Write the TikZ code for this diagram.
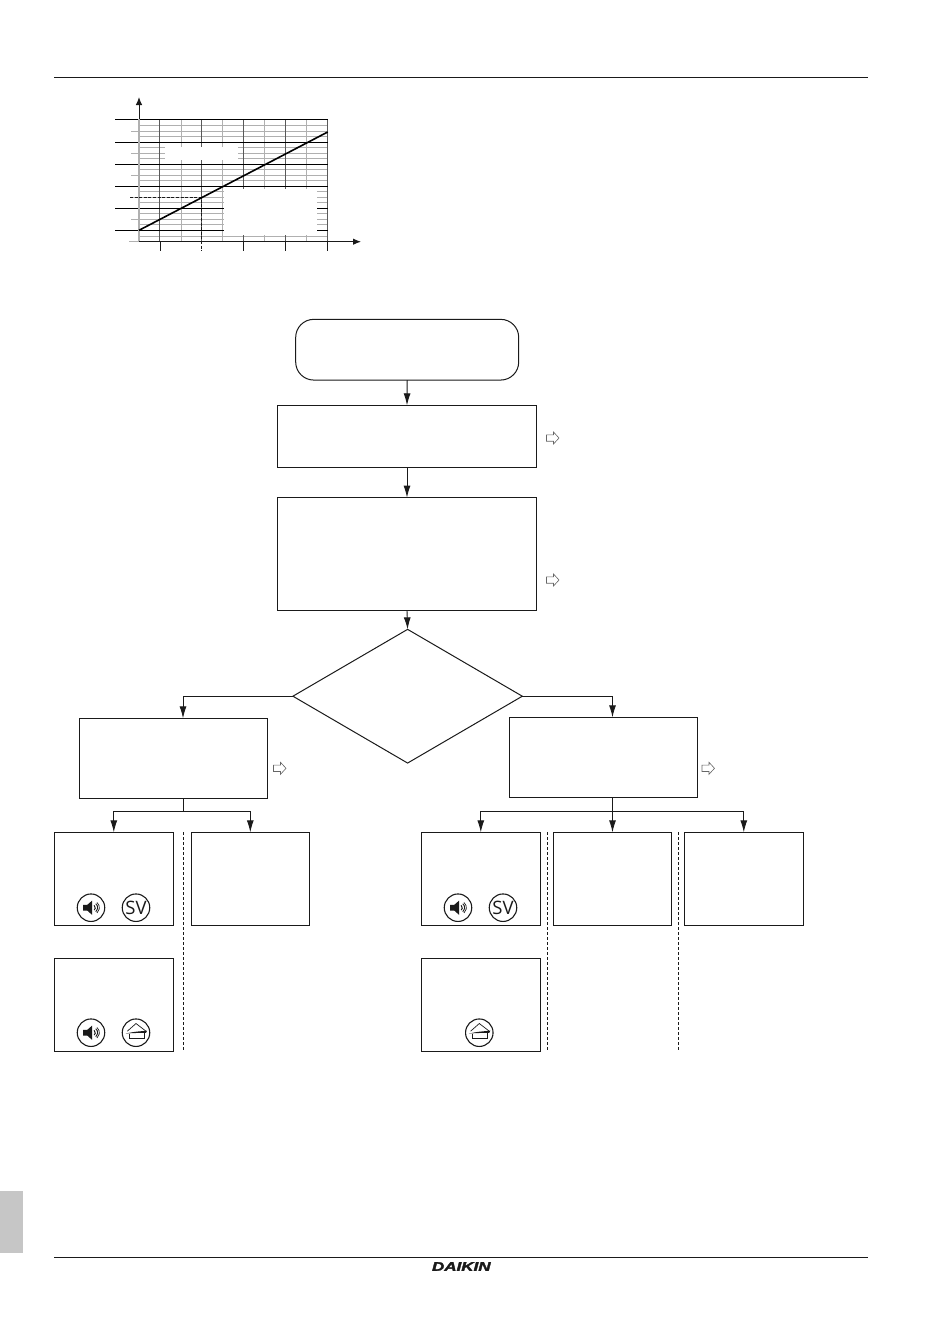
\documentclass[tikz,border=0pt]{standalone}
\usepackage{fontspec}
\setmainfont{Liberation Sans}
\newfontfamily\logofont{Liberation Sans}[BoldItalicFeatures={FakeBold=2.2}]
\newfontfamily\iconfont{Open Sans}
\usetikzlibrary{arrows.meta,shapes.geometric}
\definecolor{ink}{HTML}{1A1A1A}
\definecolor{gridgray}{HTML}{B0B0B0}
\definecolor{tabgray}{HTML}{C6C6C6}
\tikzset{
  x=1pt,y=-1pt,
  outline/.style={draw=ink,line width=1pt,fill=white,inner sep=0pt,outer sep=0pt},
  flow/.style={draw=ink,line width=0.9pt,-{Latex[length=12pt,width=7pt]}},
  trunk/.style={draw=ink,line width=0.9pt},
  sep/.style={draw=ink,line width=0.8pt,dash pattern=on 3pt off 2pt},
  rule/.style={draw=ink,line width=0.9pt},
  hint/.style={draw=black!60,line width=0.6pt,fill=white},
  ring/.style={draw=ink,line width=1.1pt,fill=white,circle,minimum size=27.5pt,inner sep=0pt,outer sep=0pt},
  svlabel/.style={font=\iconfont\fontsize{18.5}{18.5}\selectfont,text=ink},
  gridfine/.style={draw=gridgray,line width=0.9pt},
  griddark/.style={draw=black!65,line width=0.8pt},
  gridblack/.style={draw=black,line width=0.9pt},
  axisline/.style={draw=ink,line width=1pt,-{Latex[length=8pt,width=6.5pt]}},
}
\newcommand{\speakericon}[1]{%
  \begin{scope}[shift={(#1.center)}]
    \fill[ink] (-8,-2.8) -- (-3.8,-2.8) -- (1.2,-7.2) -- (1.2,7.2) -- (-3.8,2.8) -- (-8,2.8) -- cycle;
    \draw[ink,line width=1pt] (3.2,-2.4) arc[start angle=-50,end angle=50,radius=3.1];
    \draw[ink,line width=0.9pt] (4.8,-4) arc[start angle=-50,end angle=50,radius=5.2];
    \draw[ink,line width=0.7pt] (6,-5.2) arc[start angle=-50,end angle=50,radius=6.8];
  \end{scope}
}
\newcommand{\houseicon}[1]{%
  \begin{scope}[shift={(#1.center)}]
    \draw[ink,line width=0.7pt] (-8.7,-1.5) -- (0,-9.2) -- (10,-1.5);
    \fill[ink] (-10.5,0.9) .. controls (-3,-1) and (4,-1.4) .. (11,-2) -- (10,0.2) .. controls (3,0.2) and (-3,0.2) .. (-10.5,0.9) -- cycle;
    \draw[ink,line width=0.8pt] (-6.7,1) -- (-6.7,5.8) -- (8.2,5.8) -- (8.2,0.6);
  \end{scope}
}
\begin{document}
\begin{tikzpicture}
\useasboundingbox (0,0) rectangle (950,1344);
\fill[white] (0,0) rectangle (950,1344);

% page furniture
\draw[rule] (54,77.5) -- (868,77.5);
\draw[rule] (54,1257.5) -- (868,1257.5);
\fill[tabgray] (0,1190.5) rectangle (22.7,1253);
\node[font=\logofont\bfseries\itshape\fontsize{12.5}{12.5}\selectfont,text=ink,xscale=1.36,inner sep=0pt] (logo) at (461.3,1266.5) {DAIKIN};

% chart: fine grid
\foreach \y in {125,131,136.7,147.8,153.3,158.8,169.8,175.3,180.8,191.8,197.3,202.8,213.8,219.3,224.8,236.7}
  \draw[gridfine] (139,\y) -- (327.7,\y);
\foreach \y in {131,153.3,175.3,197.3,219.3}
  \draw[gridfine] (131,\y) -- (139,\y);
\draw[gridfine] (129,241.7) -- (139,241.7);
\foreach \x in {181,222.3,264.3,306.3}
  \draw[gridfine] (\x,119.3) -- (\x,241.7);
\foreach \x in {159.7,201.3,243.3,285.3}
  \draw[griddark] (\x,119.3) -- (\x,241.7);
\draw[griddark] (327.7,119.3) -- (327.7,241.7);
\foreach \y in {119.3,142.3,164.3,186.3,208.3,230.3}
  \draw[gridblack] (115,\y) -- (327.7,\y);
% chart: blanked label areas
\fill[white] (165,146.7) rectangle (238.3,160);
\fill[white] (224.3,188.5) rectangle (317,234.5);
% chart: axes, curve, ticks
\draw[draw=gridgray,line width=1.2pt] (139,241.7) -- (139,119.3);
\draw[axisline] (139,119.3) -- (139,97);
\draw[axisline] (139,241.7) -- (361,241.7);
\foreach \x in {160.5,243.3,285.3,327.7}
  \draw[ink,line width=0.9pt] (\x,241.7) -- (\x,251);
\draw[ink,line width=0.8pt,dash pattern=on 3pt off 1.6pt] (130,197.5) -- (201.5,197.5) -- (201.5,251);
\draw[black,line width=1.6pt] (139,230.3) -- (327.7,132);

% flow nodes
\node[outline,rectangle,rounded corners=18pt,minimum width=223pt,minimum height=60.7pt] (start) at (407.2,349.7) {};
\node[outline,rectangle,minimum width=259.4pt,minimum height=62pt] (check) at (407,436.3) {};
\node[outline,rectangle,minimum width=259.4pt,minimum height=112.5pt] (detail) at (407,553.8) {};
\node[outline,diamond,aspect=1.72,minimum width=229.4pt,minimum height=133.7pt] (choice) at (407.6,696.2) {};
\node[outline,rectangle,minimum width=188pt,minimum height=80pt] (lbox) at (173.4,758.3) {};
\node[outline,rectangle,minimum width=188.2pt,minimum height=80pt] (rbox) at (603.4,757.3) {};

\node[outline,rectangle,minimum width=119pt,minimum height=93pt] (la) at (113.8,878.8) {};
\node[outline,rectangle,minimum width=119pt,minimum height=93pt] (lc) at (113.8,1004.8) {};
\node[outline,rectangle,minimum width=118pt,minimum height=93pt] (lb) at (250.3,878.8) {};
\node[outline,rectangle,minimum width=119pt,minimum height=93pt] (ra) at (480.8,878.8) {};
\node[outline,rectangle,minimum width=119pt,minimum height=93pt] (rd) at (480.8,1004.8) {};
\node[outline,rectangle,minimum width=118.4pt,minimum height=93pt] (rb) at (612.5,878.8) {};
\node[outline,rectangle,minimum width=119pt,minimum height=93pt] (rc) at (743.8,878.8) {};

% junction coordinates
\coordinate (ljoin) at (183,811.5);
\coordinate (rjoin) at (612.5,811.5);
\coordinate (lout) at (183,798.3);
\coordinate (lin) at (183,718.3);
\coordinate (rin) at (612.5,717.3);
\coordinate (rout) at (612.5,797.3);

% connectors
\draw[flow] (start.south) -- (check.north);
\draw[flow] (check.south) -- (detail.north);
\draw[flow] (detail.south) -- (choice.north);
\draw[flow] (choice.west) -| (lin);
\draw[flow] (choice.east) -| (rin);
\draw[trunk] (lout) -- (ljoin);
\draw[flow] (ljoin) -| (la.north);
\draw[flow] (ljoin) -| (lb.north);
\draw[flow] (rout) -- (rb.north);
\draw[flow] (rjoin) -| (ra.north);
\draw[flow] (rjoin) -| (rc.north);

% dashed separators
\coordinate (s1a) at (183.7,832.3); \coordinate (s1b) at (183.7,1051.3);
\coordinate (s2a) at (547.3,832.3); \coordinate (s2b) at (547.3,1051.3);
\coordinate (s3a) at (678.3,832.3); \coordinate (s3b) at (678.3,1051.3);
\draw[sep] (s1a) -- (s1b);
\draw[sep] (s2a) -- (s2b);
\draw[sep] (s3a) -- (s3b);

% reference arrows
\foreach \x/\y in {546.5/438,546.5/580,273.5/768.3,702/768.3}
  \draw[hint] (\x,\y-3.2) -- ++(7,0) -- ++(0,-2.8) -- ++(5.5,6) -- ++(-5.5,6) -- ++(0,-2.8) -- ++(-7,0) -- cycle;

% icons
\node[ring] (i1) at (91,907.7) {}; \speakericon{i1}
\node[ring,svlabel] (i2) at (136,907.7) {SV};
\node[ring] (i3) at (91,1032.7) {}; \speakericon{i3}
\node[ring] (i4) at (136,1032.7) {}; \houseicon{i4}
\node[ring] (i5) at (458,907.7) {}; \speakericon{i5}
\node[ring,svlabel] (i6) at (503,907.7) {SV};
\node[ring] (i7) at (479.3,1032.7) {}; \houseicon{i7}
\end{tikzpicture}
\end{document}
